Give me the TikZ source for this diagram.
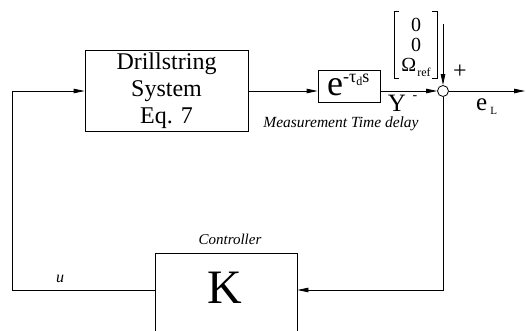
\documentclass[tikz,border=0pt]{standalone}
\usepackage{fontspec}
\setmainfont{Liberation Serif}
\usetikzlibrary{arrows.meta}
\tikzset{
  blk/.style={draw, line width=0.8pt, inner sep=0pt, align=center},
  arr/.style={-{Triangle[length=11pt,width=4.5pt]}, line width=0.8pt},
  ln/.style={line width=0.8pt},
  lbl/.style={inner sep=0pt},
}
\begin{document}
\begin{tikzpicture}[x=1pt,y=-1pt]
\useasboundingbox (0,0) rectangle (526,331);
\clip (0,0) rectangle (526,331);
% blocks
\node[blk, minimum width=163pt, minimum height=81pt, font=\fontsize{24}{27}\selectfont] (drill) at (166.5,91) {Drillstring\\System\\Eq. 7};
\node[blk, minimum width=62pt, minimum height=32pt] (delay) at (349,86) {};
\node[lbl, anchor=base west] (dtxt) at (327,96) {\fontsize{36}{36}\selectfont e\raisebox{13pt}{\fontsize{18}{18}\selectfont -τ\raisebox{-3pt}{\fontsize{12}{12}\selectfont d}s}};
\node[blk, minimum width=142pt, minimum height=90pt, anchor=north] (K) at (226,253) {};
\node[lbl, anchor=base] (Kt) at (224.5,303) {\fontsize{48}{48}\selectfont K};
\node[draw, circle, line width=0.8pt, minimum size=11pt, inner sep=0pt] (sum) at (443,91) {};
% labels
\node[lbl, font=\fontsize{15.5}{16}\selectfont\itshape] (mtd) at (341,124) {Measurement Time delay};
\node[lbl, font=\fontsize{15}{16}\selectfont\itshape] (ctl) at (230,239) {Controller};
\node[lbl, anchor=base, font=\fontsize{16}{16}\selectfont\itshape] (u) at (60,282) {u};
\node[lbl, anchor=base, font=\fontsize{25}{25}\selectfont] (Y) at (397,112) {Y};
\node[lbl, font=\fontsize{14}{14}\selectfont] (ym) at (415,98) {-};
\node[lbl, font=\fontsize{24}{24}\selectfont] (plus) at (460,72) {+};
\node[lbl, anchor=base west] (eL) at (476,111) {\fontsize{25}{25}\selectfont e\hspace{3pt}\raisebox{-4pt}{\fontsize{11}{11}\selectfont L}};
% reference vector
\node[lbl, align=center, font=\fontsize{20}{20}\selectfont] (mat) at (416,47) {0\\0\\Ω\hspace{1pt}\raisebox{-5pt}{\fontsize{12}{12}\selectfont ref}};
\draw[ln, line width=0.6pt] (399,11) -- (394,11) -- (394,78) -- (399,78);
\draw[ln, line width=0.6pt] (432,11) -- (437,11) -- (437,78) -- (432,78);
\coordinate (rin) at (443,24);
\coordinate (out) at (525,91);
\coordinate (bot) at (0,290);
\coordinate (lft) at (12,0);
% connectors
\draw[arr] (drill.east) -- (drill.east -| delay.west);
\draw[arr] (delay.east |- sum) -- (sum.west);
\draw[arr] (sum.east) -- (out);
\draw[arr] (rin) -- (sum.north);
\draw[arr] (sum.south) -- (sum |- bot) -- (K.east |- bot);
\draw[arr] (K.west |- bot) -- (lft |- bot) -- (lft |- drill.west) -- (drill.west);
\end{tikzpicture}
\end{document}
